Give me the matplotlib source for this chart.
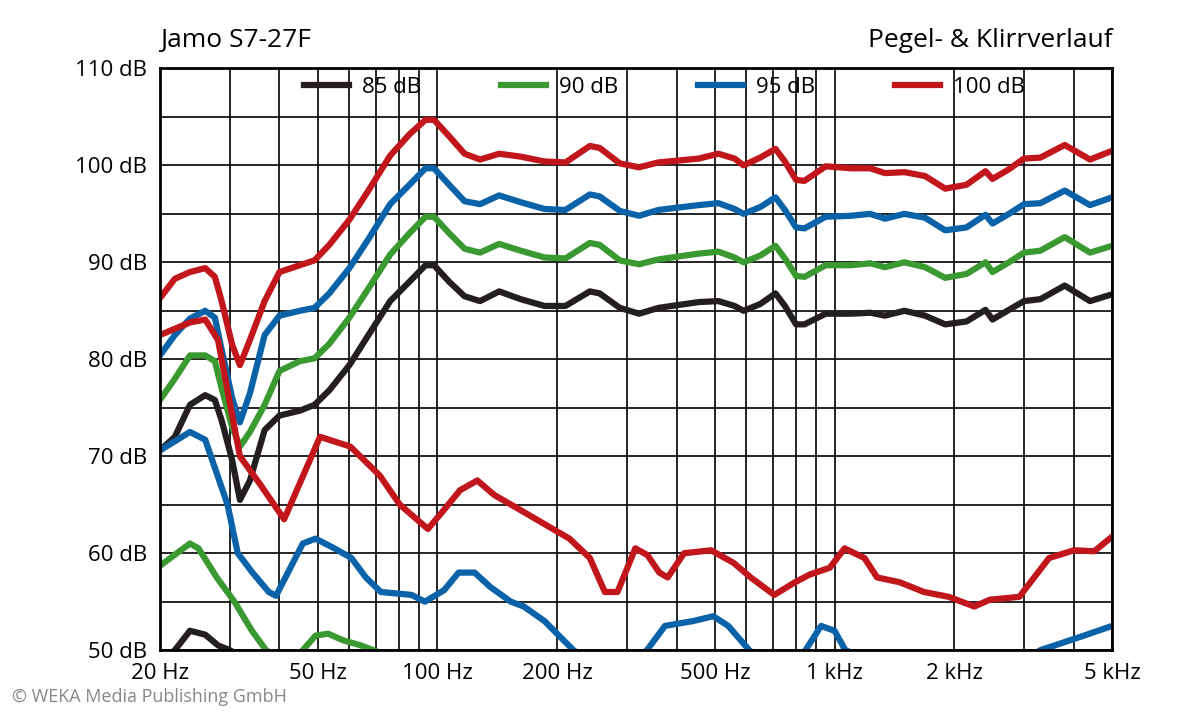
import numpy as np
import matplotlib.pyplot as plt
from matplotlib.ticker import FixedLocator, NullFormatter

plt.rcParams['font.family'] = 'Open Sans'

# frequency grid for the level curves (Hz)
freq = [20, 21.8, 23.8, 26, 27.5, 28.6, 30.4, 31.8, 33.7, 36.7, 40, 45, 49, 53.4, 60, 67, 76, 85, 93.3,
        98, 107, 117, 128, 143, 162, 186, 210, 242, 256, 288, 322, 360, 455, 510, 560, 590, 650, 710,
        750, 800, 840, 950, 1100, 1230, 1340, 1500, 1690, 1900, 2150, 2400, 2500, 2750, 3000, 3300,
        3800, 4400, 5000]
lvl_85 = [70.6, 72.0, 75.3, 76.3, 75.8, 73.7, 69.6, 65.5, 67.5, 72.7, 74.2, 74.7, 75.3, 76.8, 79.4,
          82.5, 86.0, 88.0, 89.7, 89.7, 88.0, 86.5, 86.0, 87.0, 86.2, 85.5, 85.5, 87.0, 86.8, 85.3,
          84.7, 85.3, 85.9, 86.0, 85.5, 85.0, 85.7, 86.8, 85.5, 83.6, 83.6, 84.7, 84.7, 84.8, 84.5,
          85.0, 84.5, 83.6, 83.9, 85.1, 84.1, 85.1, 86.0, 86.2, 87.6, 86.0, 86.7]
lvl_90 = [75.8, 78.0, 80.4, 80.4, 79.8, 77.0, 73.0, 71.0, 72.5, 75.3, 78.8, 79.8, 80.1, 81.6, 84.3,
          87.3, 90.8, 93.0, 94.7, 94.7, 93.0, 91.4, 91.0, 91.9, 91.2, 90.5, 90.4, 92.0, 91.8, 90.2,
          89.8, 90.3, 90.9, 91.1, 90.5, 90.0, 90.7, 91.7, 90.4, 88.6, 88.5, 89.7, 89.7, 89.9, 89.5,
          90.0, 89.5, 88.4, 88.8, 90.0, 89.0, 90.0, 91.0, 91.2, 92.6, 91.0, 91.7]
lvl_95 = [80.4, 82.5, 84.2, 85.0, 84.3, 81.0, 76.0, 73.5, 76.5, 82.5, 84.5, 85.0, 85.3, 86.8, 89.4,
          92.4, 96.0, 98.0, 99.7, 99.7, 98.0, 96.3, 96.0, 96.9, 96.2, 95.5, 95.4, 97.0, 96.8, 95.3,
          94.8, 95.4, 95.9, 96.1, 95.5, 95.0, 95.7, 96.7, 95.4, 93.6, 93.5, 94.7, 94.8, 95.0, 94.5,
          95.0, 94.6, 93.3, 93.6, 94.9, 94.0, 95.0, 96.0, 96.1, 97.4, 95.9, 96.7]
lvl_100 = [86.3, 88.3, 89.0, 89.4, 88.5, 86.0, 81.5, 79.4, 82.0, 86.0, 89.0, 89.7, 90.2, 91.8, 94.4,
           97.4, 101.0, 103.2, 104.7, 104.7, 103.0, 101.2, 100.6, 101.2, 100.9, 100.4, 100.3, 102.0,
           101.8, 100.2, 99.8, 100.3, 100.7, 101.2, 100.7, 100.0, 100.8, 101.7, 100.4, 98.5, 98.4,
           99.9, 99.7, 99.7, 99.2, 99.3, 98.9, 97.6, 98.0, 99.4, 98.6, 99.6, 100.7, 100.8, 102.1,
           100.6, 101.5]

# distortion curves
d100_f = [20, 23.8, 26, 28, 31.8, 35.9, 41.1, 50.6, 60.3, 71.6, 80.4, 94.6, 104, 114, 126, 139, 161,
          186, 215, 242, 264, 284, 315, 338, 362, 380, 418, 489, 557, 615, 705, 795, 866, 973, 1060,
          1190, 1280, 1460, 1680, 1940, 2250, 2460, 2920, 3470, 4010, 4510, 5000]
d100 = [82.5, 83.8, 84.1, 82.0, 70.0, 67.0, 63.5, 72.0, 71.0, 68.0, 65.0, 62.5, 64.5, 66.5, 67.5, 66.0,
        64.5, 63.0, 61.5, 59.5, 56.0, 56.0, 60.5, 59.8, 58.0, 57.5, 60.0, 60.3, 59.0, 57.5, 55.7, 57.0,
        57.8, 58.5, 60.5, 59.5, 57.5, 57.0, 56.0, 55.5, 54.5, 55.2, 55.5, 59.5, 60.3, 60.2, 61.7]
d95_f = [20, 23.8, 26, 29.6, 31.4, 34.2, 37.6, 39.2, 42, 45.8, 49.3, 55, 60.7, 66, 72, 86, 93, 104, 113,
         124, 136, 153, 165, 186, 220, 260, 300, 337, 374, 440, 495, 540, 610, 700, 780, 845, 925, 1000,
         1065, 1400, 2750, 3300, 4250, 5000]
d95 = [70.6, 72.5, 71.7, 65.0, 60.0, 58.0, 56.0, 55.6, 58.0, 61.0, 61.5, 60.5, 59.5, 57.5, 56.0, 55.7,
       55.0, 56.2, 58.0, 58.0, 56.5, 55.0, 54.5, 53.0, 50.0, 48.0, 48.0, 50.0, 52.5, 53.0, 53.5, 52.5,
       50.0, 48.0, 48.0, 50.0, 52.5, 52.0, 50.0, 48.0, 48.0, 50.0, 51.5, 52.5]
d90_f = [20, 23.8, 25, 27.8, 30.8, 34.1, 37, 42, 45.8, 49.3, 53, 58, 64, 80]
d90 = [58.7, 61.0, 60.5, 57.5, 55.0, 52.0, 50.0, 48.5, 50.0, 51.5, 51.7, 51.0, 50.5, 49.0]
d85_f = [20, 21.8, 23.8, 26, 28, 30, 33, 40]
d85 = [48.5, 50.0, 52.0, 51.6, 50.5, 50.0, 49.0, 48.5]

x_ticks = [20, 50, 100, 200, 500, 1000, 2000, 5000]
x_labels = ['20 Hz', '50 Hz', '100 Hz', '200 Hz', '500 Hz', '1 kHz', '2 kHz', '5 kHz']
y_ticks = [50, 60, 70, 80, 90, 100, 110]
y_labels = ['%d dB' % v for v in y_ticks]

fig = plt.figure(figsize=(12, 7.2), dpi=100)
ax = fig.add_axes([0.1333, 0.097, 0.7934, 0.808])
ax.set_xscale('log')
ax.set_xlim(20, 5000)
ax.set_ylim(50, 110)

minor = [f for d in (10, 100, 1000) for f in np.arange(2, 10) * d if 20 <= f <= 5000]
ax.xaxis.set_minor_locator(FixedLocator(minor))
ax.xaxis.set_minor_formatter(NullFormatter())
ax.set_xticks(x_ticks)
ax.set_xticklabels(x_labels, fontsize=16)
ax.set_yticks(y_ticks)
ax.set_yticklabels(y_labels, fontsize=16)
ax.set_yticks(np.arange(55, 110, 10), minor=True)
ax.tick_params(which='both', length=0, pad=9)
ax.grid(which='both', color='black', linewidth=1.2)
for s in ax.spines.values():
    s.set_linewidth(2)

cols = {'85': '#231f20', '90': '#3a9a31', '95': '#0a62a9', '100': '#c1161c'}
lw = 4.5
ax.plot(freq, lvl_85, color=cols['85'], lw=lw, label='85 dB', solid_joinstyle='round')
ax.plot(freq, lvl_90, color=cols['90'], lw=lw, label='90 dB', solid_joinstyle='round')
ax.plot(freq, lvl_95, color=cols['95'], lw=lw, label='95 dB', solid_joinstyle='round')
ax.plot(freq, lvl_100, color=cols['100'], lw=lw, label='100 dB', solid_joinstyle='round')
ax.plot(d85_f, d85, color=cols['85'], lw=lw, solid_joinstyle='round')
ax.plot(d90_f, d90, color=cols['90'], lw=lw, solid_joinstyle='round')
ax.plot(d95_f, d95, color=cols['95'], lw=lw, solid_joinstyle='round')
ax.plot(d100_f, d100, color=cols['100'], lw=lw, solid_joinstyle='round')

ax.legend(loc='upper center', ncol=4, frameon=False, fontsize=16, handlelength=2.0,
          columnspacing=3.6, bbox_to_anchor=(0.53, 1.02), handletextpad=0.6)

fig.text(0.133, 0.935, 'Jamo S7-27F', fontsize=19)
fig.text(0.927, 0.935, 'Pegel- & Klirrverlauf', fontsize=19, ha='right')
fig.text(0.01, 0.025, '© WEKA Media Publishing GmbH', fontsize=13, color='#888888')

fig.savefig('out.png', dpi=100)
